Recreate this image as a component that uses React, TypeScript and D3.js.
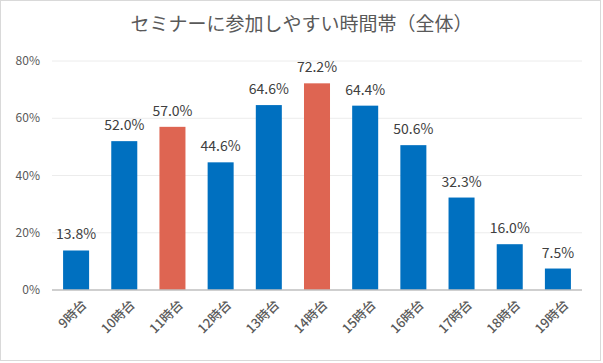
import { scaleBand, scaleLinear } from "d3";

const categories = ["9時台", "10時台", "11時台", "12時台", "13時台", "14時台", "15時台", "16時台", "17時台", "18時台", "19時台"];
const values = [13.8, 52.0, 57.0, 44.6, 64.6, 72.2, 64.4, 50.6, 32.3, 16.0, 7.5];
const highlighted = ["11時台", "14時台"];
const yTicks = [0, 20, 40, 60, 80];

const W = 603;
const H = 363;
const MARGIN = { top: 61, left: 52, bottom: 73, right: 21 };
const FONT = "'Noto Sans CJK JP', 'Liberation Sans', sans-serif";

export default function App() {
  const boundsWidth = W - MARGIN.left - MARGIN.right;
  const boundsHeight = H - MARGIN.top - MARGIN.bottom;

  const xScale = scaleBand().domain(categories).range([0, boundsWidth]).paddingInner(0.46).paddingOuter(0.23);
  const yScale = scaleLinear().domain([0, 80]).range([boundsHeight, 0]);

  return (
    <svg width={W} height={H} style={{ position: "absolute", left: 0, top: 0 }} fontFamily={FONT}>
      <rect x={0.5} y={0.5} width={W - 3} height={H - 3} fill="#fff" stroke="#d9d9d9" />
      <text x={W / 2} y={31} textAnchor="middle" fontSize={19} fill="#595959">
        セミナーに参加しやすい時間帯（全体）
      </text>
      <g transform={`translate(${MARGIN.left},${MARGIN.top})`}>
        {yTicks.map((t) => (
          <g key={t}>
            {t > 0 && (
              <line x1={0} x2={boundsWidth} y1={yScale(t)} y2={yScale(t)} stroke="#ececec" strokeWidth={1} />
            )}
            <text x={-12} y={yScale(t)} dy="0.35em" textAnchor="end" fontSize={12} fill="#595959">
              {t}%
            </text>
          </g>
        ))}
        {categories.map((c, i) => {
          const x = xScale(c) ?? 0;
          const y = yScale(values[i]);
          return (
            <g key={c}>
              <rect
                x={x}
                y={y}
                width={xScale.bandwidth()}
                height={boundsHeight - y}
                fill={highlighted.includes(c) ? "#DE6552" : "#0070C0"}
              />
              <text x={x + xScale.bandwidth() / 2} y={y - 11} textAnchor="middle" fontSize={14} fill="#404040">
                {values[i].toFixed(1)}%
              </text>
            </g>
          );
        })}
        <line x1={0} x2={boundsWidth} y1={boundsHeight} y2={boundsHeight} stroke="#bfbfbf" strokeWidth={1.5} />
        {categories.map((c) => {
          const cx = (xScale(c) ?? 0) + xScale.bandwidth() / 2 + 5;
          const cy = boundsHeight + 9;
          return (
            <text
              key={c}
              transform={`translate(${cx},${cy}) rotate(-45)`}
              textAnchor="end"
              dy="0.7em"
              fontSize={13}
              fontWeight={500}
              fill="#595959"
            >
              {c}
            </text>
          );
        })}
      </g>
    </svg>
  );
}
